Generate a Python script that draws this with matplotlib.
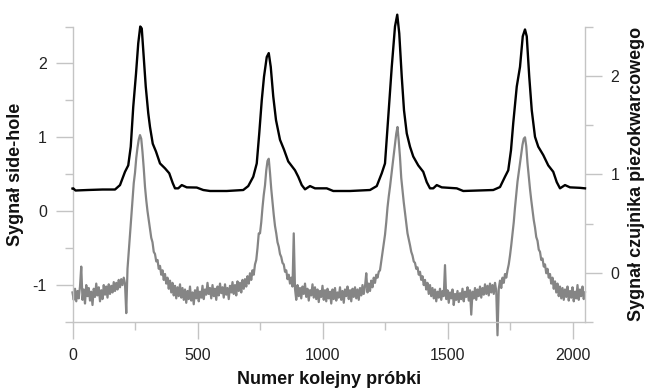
import numpy as np
import matplotlib
matplotlib.use("Agg")
import matplotlib.pyplot as plt
from matplotlib.ticker import FixedLocator

plt.rcParams['font.family'] = ['Liberation Sans', 'DejaVu Sans']
plt.rcParams['axes.unicode_minus'] = False

# ---- data ----
# side-hole signal (grey, left axis), one value every 5 samples from 0 to 2050
side_x = list(range(0, 2051, 5))
side_y = [
 -1.10,-1.20,-1.05,-1.22,-1.08,-1.18,-1.02,-0.75,-1.20,-1.06,
 -1.25,-1.00,-1.15,-1.04,-1.21,-1.09,-1.27,-1.05,-1.16,-0.98,
 -1.14,-1.03,-1.22,-1.07,-1.19,-1.00,-1.13,-1.02,-1.17,-0.99,
 -1.12,-1.01,-1.10,-0.96,-1.08,-0.97,-1.06,-0.93,-1.03,-0.92,
 -1.00,-0.90,-0.98,-1.38,-0.78,-0.55,-0.30,-0.10,0.12,0.38,
 0.52,0.72,0.86,0.97,1.03,0.98,0.80,0.58,0.33,0.15,
 0.00,-0.12,-0.25,-0.36,-0.42,-0.55,-0.58,-0.68,-0.66,-0.78,
 -0.74,-0.86,-0.80,-0.93,-0.85,-0.98,-0.90,-1.05,-0.94,-1.10,
 -0.97,-1.14,-1.01,-1.18,-1.03,-1.15,-0.99,-1.17,-1.04,-1.20,
 -1.06,-1.24,-1.08,-1.19,-1.02,-1.21,-1.10,-1.26,-1.07,-1.18,
 -1.03,-1.22,-1.09,-1.17,-1.01,-1.19,-1.06,-1.13,-0.97,-1.12,
 -1.04,-1.18,-1.00,-1.15,-1.05,-1.20,-1.02,-1.14,-0.98,-1.11,
 -1.03,-1.17,-0.99,-1.13,-1.04,-1.19,-1.01,-1.10,-0.96,-1.12,
 -1.00,-1.14,-0.95,-1.08,-0.97,-1.10,-0.93,-1.05,-0.92,-1.02,
 -0.88,-0.98,-0.84,-0.93,-0.80,-0.86,-0.72,-0.66,-0.50,-0.30,
 -0.30,-0.15,0.05,0.22,0.35,0.55,0.68,0.71,0.52,0.30,
 0.12,-0.05,-0.20,-0.30,-0.42,-0.48,-0.58,-0.62,-0.70,-0.72,
 -0.82,-0.80,-0.92,-0.86,-0.98,-0.90,-1.02,-0.30,-1.05,-1.20,
 -1.00,-1.15,-1.04,-1.18,-1.02,-1.12,-0.98,-1.16,-1.05,-1.21,
 -1.07,-1.14,-0.99,-1.17,-1.03,-1.19,-1.06,-1.23,-1.08,-1.16,
 -1.01,-1.20,-1.07,-1.22,-1.05,-1.18,-1.09,-1.25,-1.06,-1.19,
 -1.04,-1.21,-1.10,-1.17,-1.03,-1.20,-1.08,-1.24,-1.06,-1.15,
 -1.02,-1.19,-1.07,-1.22,-1.05,-1.16,-1.03,-1.18,-1.06,-1.20,
 -1.04,-1.14,-1.00,-1.12,-1.02,-0.84,-1.10,-0.98,-1.08,-0.94,
 -1.03,-0.90,-0.97,-0.86,-0.90,-0.82,-0.80,-0.68,-0.55,-0.45,
 -0.32,-0.15,0.05,0.20,0.33,0.48,0.62,0.76,0.90,1.05,
 1.14,0.95,0.73,0.45,0.28,0.12,-0.02,-0.15,-0.30,-0.38,
 -0.46,-0.55,-0.60,-0.68,-0.70,-0.78,-0.76,-0.86,-0.82,-0.93,
 -0.88,-1.00,-0.93,-1.06,-0.97,-1.12,-1.00,-1.15,-1.04,-1.18,
 -1.06,-1.22,-1.09,-1.17,-1.05,-1.20,-1.08,-1.15,-0.73,-1.19,
 -1.07,-1.24,-1.10,-1.18,-1.06,-1.27,-1.12,-1.20,-1.08,-1.23,
 -1.11,-1.19,-1.05,-1.22,-1.09,-1.16,-1.03,-1.21,-1.07,-1.40,
 -1.09,-1.18,-1.04,-1.20,-1.06,-1.15,-1.02,-1.17,-1.04,-1.13,
 -0.99,-1.12,-1.01,-1.14,-0.98,-1.10,-1.00,-1.12,-0.97,-1.08,
 -1.68,-1.05,-0.94,-1.04,-0.90,-0.97,-0.85,-0.90,-0.80,-0.72,
 -0.60,-0.46,-0.30,-0.15,0.05,0.22,0.40,0.52,0.65,0.78,
 0.90,0.98,1.00,0.88,0.65,0.47,0.30,0.15,0.02,-0.12,
 -0.22,-0.35,-0.40,-0.52,-0.55,-0.66,-0.64,-0.75,-0.72,-0.84,
 -0.78,-0.90,-0.85,-0.98,-0.90,-1.05,-0.95,-1.10,-0.98,-1.15,
 -1.02,-1.18,-1.04,-1.20,-1.06,-1.16,-1.02,-1.21,-1.08,-1.17,
 -1.03,-1.22,-1.09,-1.18,-1.00,-1.20,-1.06,-1.15,-1.02,-1.19,
 -1.10,
]

# piezo sensor signal (black, right axis)
piezo_x = [0, 3, 12, 60, 120, 170, 190, 210, 223, 233, 243, 254, 263, 271, 277,
           283, 293, 303, 310, 321, 334, 350, 370, 387, 401, 410, 423, 437, 457,
           497, 523, 550, 617, 683, 703, 723, 737, 747, 757, 766, 777, 785, 793,
           803, 814, 830, 846, 863, 890, 903, 917, 930, 950, 970, 1017, 1043,
           1110, 1190, 1217, 1237, 1250, 1263, 1277, 1290, 1299, 1307, 1317,
           1326, 1337, 1350, 1363, 1383, 1403, 1417, 1430, 1443, 1457, 1477,
           1537, 1563, 1683, 1710, 1730, 1743, 1754, 1763, 1777, 1790, 1801,
           1810, 1817, 1827, 1837, 1850, 1863, 1883, 1903, 1923, 1937, 1950,
           1970, 1990, 2030, 2050]
piezo_y = [0.855, 0.857, 0.835, 0.84, 0.845, 0.845, 0.89, 1.025, 1.09, 1.28, 1.685,
           2.02, 2.33, 2.50, 2.48, 2.26, 1.89, 1.62, 1.48, 1.31, 1.23, 1.11, 1.06,
           1.01, 0.91, 0.857, 0.857, 0.89, 0.867, 0.865, 0.84, 0.83, 0.83, 0.84,
           0.88, 0.975, 1.11, 1.415, 1.75, 1.99, 2.19, 2.23, 2.09, 1.79, 1.55,
           1.35, 1.25, 1.13, 1.04, 0.975, 0.89, 0.847, 0.88, 0.857, 0.857, 0.83,
           0.83, 0.84, 0.88, 1.01, 1.11, 1.58, 2.09, 2.50, 2.62, 2.43, 1.99,
           1.65, 1.415, 1.28, 1.18, 1.09, 1.025, 0.92, 0.857, 0.857, 0.89, 0.867,
           0.857, 0.83, 0.84, 0.87, 0.975, 1.04, 1.245, 1.52, 1.89, 2.09, 2.40,
           2.47, 2.40, 1.99, 1.65, 1.38, 1.28, 1.195, 1.09, 1.025, 0.92, 0.857,
           0.89, 0.867, 0.862, 0.857]

x_major = [0, 500, 1000, 1500, 2000]
x_minor = [250, 750, 1250, 1750]
left_major = [-1, 0, 1, 2]
left_minor = [-1.5, -0.5, 0.5, 1.5, 2.5]
right_major = [0, 1, 2]
right_minor = [-0.5, 0.5, 1.5, 2.5]

xlabel = "Numer kolejny próbki"
ylabel_left = "Sygnał side-hole"
ylabel_right = "Sygnał czujnika piezokwarcowego"

# ---- figure ----
fig = plt.figure(figsize=(6.45, 3.88), dpi=100)
ax = fig.add_axes([72.5/645, 1-322/388, (585-72.5)/645, (322-26.5)/388])
ax2 = ax.twinx()

spine_c = '#c4c4c4'
lab_c = '#222222'

ax.plot(side_x, side_y, color='#858585', lw=1.6, clip_on=False, zorder=2)
ax2.plot(piezo_x, piezo_y, color='black', lw=1.7, clip_on=False, zorder=3)

ax.set_xlim(0, 2050)
ax.set_ylim(-1.5, 2.5)
ax2.set_ylim(-0.5, 2.5)

for a in (ax, ax2):
    a.spines['top'].set_visible(False)
    for s in a.spines.values():
        s.set_color(spine_c)
        s.set_linewidth(1.0)
ax2.spines['left'].set_visible(False)
ax2.spines['bottom'].set_visible(False)
ax.spines['right'].set_visible(False)

ax.xaxis.set_major_locator(FixedLocator(x_major))
ax.xaxis.set_minor_locator(FixedLocator(x_minor))
ax.yaxis.set_major_locator(FixedLocator(left_major))
ax.yaxis.set_minor_locator(FixedLocator(left_minor))
ax2.yaxis.set_major_locator(FixedLocator(right_major))
ax2.yaxis.set_minor_locator(FixedLocator(right_minor))

ax.tick_params(axis='both', which='major', length=12.5, width=1.0, color=spine_c,
               labelsize=11.5, labelcolor=lab_c, pad=6)
ax.tick_params(axis='both', which='minor', length=6, width=1.0, color=spine_c)
ax2.tick_params(axis='y', which='major', length=12.5, width=1.0, color=spine_c,
                labelsize=11.5, labelcolor=lab_c, pad=6)
ax2.tick_params(axis='y', which='minor', length=6, width=1.0, color=spine_c)

ax.set_xlabel(xlabel, fontsize=13, fontweight='bold', color='#111111', labelpad=6)
ax.set_ylabel(ylabel_left, fontsize=13, fontweight='bold', color='#111111', labelpad=6)
ax2.set_ylabel(ylabel_right, fontsize=13, fontweight='bold', color='#111111',
               rotation=90, labelpad=6)

fig.savefig("out.png", dpi=100)
